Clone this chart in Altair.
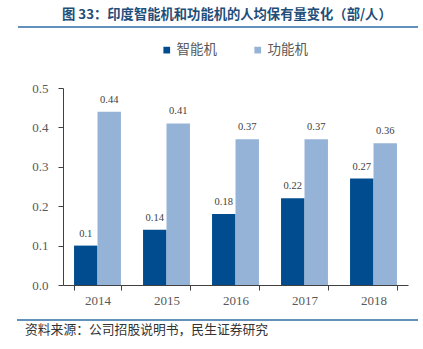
import altair as alt
import pandas as pd

years = ["2014", "2015", "2016", "2017", "2018"]
series_names = ["智能机", "功能机"]
smart = [0.10, 0.14, 0.18, 0.22, 0.27]
feature = [0.44, 0.41, 0.37, 0.37, 0.36]
label_smart = ["0.1", "0.14", "0.18", "0.22", "0.27"]
label_feature = ["0.44", "0.41", "0.37", "0.37", "0.36"]
colors = ["#004C8F", "#95B3D7"]

title_text = "图 33：印度智能机和功能机的人均保有量变化（部/人）"
source_text = "资料来源：公司招股说明书，民生证券研究"

rows = []
for i, y in enumerate(years):
    rows.append({"year": y, "series": series_names[0], "value": smart[i], "label": label_smart[i]})
    rows.append({"year": y, "series": series_names[1], "value": feature[i], "label": label_feature[i]})
df = pd.DataFrame(rows)
one = pd.DataFrame({"k": [0]})

serif = "Liberation Serif"
cjk = "Noto Sans CJK SC"

x_enc = alt.X("year:N", sort=years, title=None,
              scale=alt.Scale(paddingInner=0.32, paddingOuter=0.16),
              axis=alt.Axis(labelAngle=0, labelFont=serif, labelFontSize=13,
                            labelColor="#595959", domainColor="#404040",
                            tickColor="#404040", tickSize=5, tickBand="extent",
                            labelPadding=4))
y_enc = alt.Y("value:Q", title=None,
              scale=alt.Scale(domain=[0, 0.5], nice=False),
              axis=alt.Axis(format=".1f", tickCount=5,
                            grid=False, labelFont=serif, labelFontSize=13,
                            labelColor="#595959", domainColor="#404040",
                            tickColor="#404040", tickSize=5, labelPadding=10,
                            labelOverlap=False))
xoff = alt.XOffset("series:N", sort=series_names)

bars = alt.Chart(df).mark_bar().encode(
    x=x_enc,
    xOffset=xoff,
    y=y_enc,
    color=alt.Color("series:N", sort=series_names,
                    scale=alt.Scale(domain=series_names, range=colors),
                    legend=alt.Legend(title=None, orient="none", direction="horizontal",
                                      legendX=97, legendY=-45, symbolType="square",
                                      symbolSize=45, labelFont=cjk, labelFontSize=13.5,
                                      labelColor="#595959", columnPadding=34,
                                      symbolStrokeWidth=0, labelOffset=3)),
)

labels = alt.Chart(df).mark_text(baseline="bottom", dy=-7, font=serif,
                                 fontSize=10.5, color="#404040").encode(
    x=x_enc,
    xOffset=xoff,
    y=y_enc,
    text="label:N",
)

title = alt.Chart(one).mark_text(align="left", baseline="middle", font=cjk,
                                 fontSize=13.3, fontWeight="bold",
                                 color="#1F4E79").encode(
    x=alt.value(-1), y=alt.value(-73), text=alt.value(title_text))

top_line = alt.Chart(one).mark_rule(color="#2E6DA4", strokeWidth=1.5).encode(
    x=alt.value(-45), x2=alt.value(355), y=alt.value(-61))

bottom_line = alt.Chart(one).mark_rule(color="#2E6DA4", strokeWidth=1.5).encode(
    x=alt.value(-46), x2=alt.value(355), y=alt.value(232))

source = alt.Chart(one).mark_text(align="left", baseline="middle", font=cjk,
                                  fontSize=12.8, fontWeight="normal",
                                  color="#333333").encode(
    x=alt.value(-38), y=alt.value(242), text=alt.value(source_text))

chart = alt.layer(bars, labels, title, top_line, bottom_line, source).properties(
    width=345, height=197,
    autosize=alt.AutoSizeParams(type="none"),
    padding={"left": 63, "top": 88, "right": 15, "bottom": 64},
).configure_view(stroke=None)

chart.save("out.html", embed_options={"renderer": "svg", "actions": False})
